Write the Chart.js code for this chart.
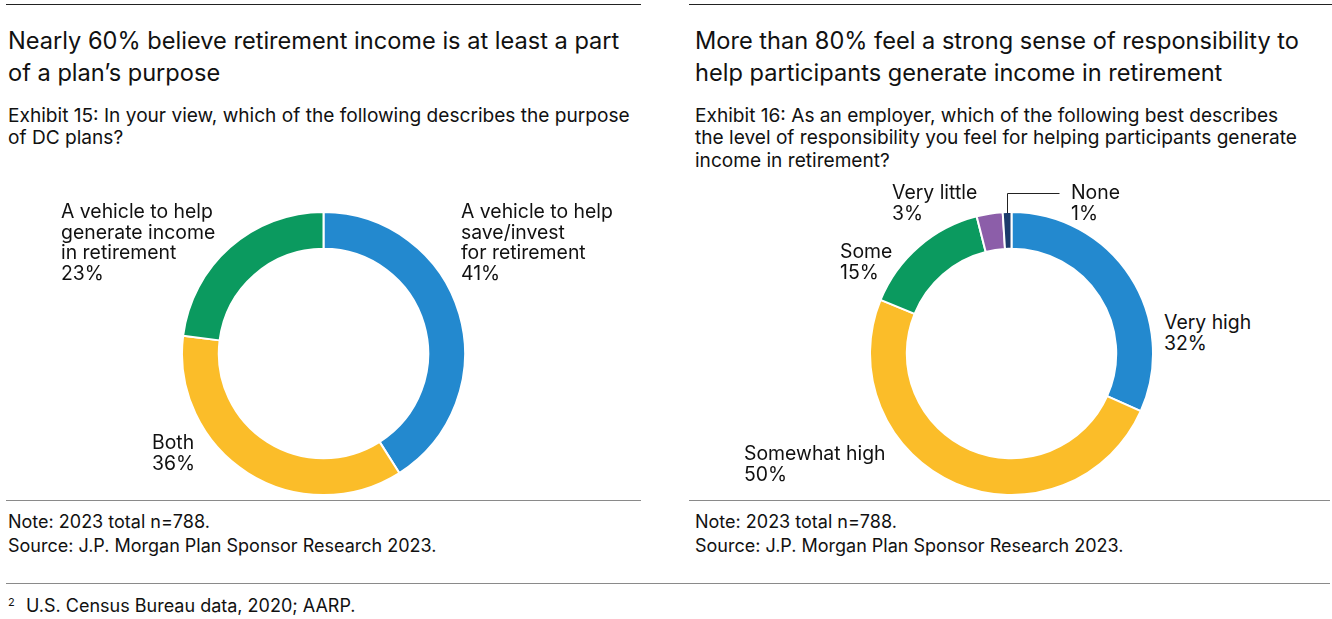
<!DOCTYPE html>
<html>
<head>
<meta charset="utf-8">
<script src="https://cdn.jsdelivr.net/npm/chart.js@4.4.1/dist/chart.umd.min.js"></script>
<style>
  body { margin: 0; background: #fff; }
  #page { position: relative; width: 1332px; height: 619px; overflow: hidden;
          font-family: 'Inter', 'Roboto', sans-serif; color: #111; }
  .abs { position: absolute; white-space: nowrap; }
  .title { font-size: 23.6px; line-height: 32px; }
  .sub { font-size: 19.1px; line-height: 22.4px; }
  .lbl { font-size: 19.4px; line-height: 20.5px; }
  .note { font-size: 18px; line-height: 24px; }
  .rule { position: absolute; height: 1px; }
  .box { position: absolute; width: 285px; }
</style>
</head>
<body>
<div id="page">
  <div class="rule" style="left:6px; top:4px; width:635px; background:#222;"></div>
  <div class="rule" style="left:689px; top:4px; width:643px; background:#222;"></div>

  <div class="abs title" style="left:8px; top:25px;">Nearly 60% believe retirement income is at least a part<br>of a plan’s purpose</div>
  <div class="abs sub" style="left:8px; top:104px;">Exhibit 15: In your view, which of the following describes the purpose<br>of DC plans?</div>

  <div class="abs title" style="left:695px; top:25px;">More than 80% feel a strong sense of responsibility to<br>help participants generate income in retirement</div>
  <div class="abs sub" style="left:695px; top:104px;">Exhibit 16: As an employer, which of the following best describes<br>the level of responsibility you feel for helping participants generate<br>income in retirement?</div>

  <div class="box" style="left:181px; top:211px; height:285px;"><canvas id="graficoProposito"></canvas></div>
  <div class="box" style="left:869px; top:191px; height:305px;"><canvas id="graficoResponsabilidade"></canvas></div>

  <div class="rule" style="left:6px; top:500px; width:635px; background:#8a8a8a;"></div>
  <div class="rule" style="left:689px; top:500px; width:641px; background:#8a8a8a;"></div>

  <div class="abs note" style="left:8px; top:510px;">Note: 2023 total n=788.<br>Source: J.P. Morgan Plan Sponsor Research 2023.</div>
  <div class="abs note" style="left:695px; top:510px;">Note: 2023 total n=788.<br>Source: J.P. Morgan Plan Sponsor Research 2023.</div>

  <div class="rule" style="left:6px; top:583px; width:1324px; background:#8a8a8a;"></div>
  <div class="abs" style="left:8px; top:595px; font-size:11px; line-height:14px;">2</div>
  <div class="abs note" style="left:26px; top:594px;">U.S. Census Bureau data, 2020; AARP.</div>
</div>

<script>
// dados dos gráficos
const propositoLinhas = [
    ['A vehicle to help', 'save/invest', 'for retirement'],
    ['Both'],
    ['A vehicle to help', 'generate income', 'in retirement']
];
const propositoValores = [41, 36, 23];
const propositoCores = ['#2389cf', '#fbbd29', '#0b9a5f'];

const responsabilidadeLinhas = [['Very high'], ['Somewhat high'], ['Some'], ['Very little'], ['None']];
const responsabilidadeValores = [32, 50, 15, 3, 1];
const responsabilidadeCores = ['#2389cf', '#fbbd29', '#0b9a5f', '#8c5ea9', '#1b3b6c'];

// posição dos rótulos (left, top)
const propositoPos = [[461, 201], [152, 432], [61, 201]];
const responsabilidadePos = [[1164, 312], [744, 443], [840, 241], [892, 182], [1071, 182]];

const page = document.getElementById('page');

function rotulos(linhas, valores, pos) {
    linhas.forEach(function (l, i) {
        const div = document.createElement('div');
        div.className = 'abs lbl';
        div.style.left = pos[i][0] + 'px';
        div.style.top = pos[i][1] + 'px';
        div.innerHTML = l.concat([valores[i] + '%']).join('<br>');
        page.appendChild(div);
    });
}
rotulos(propositoLinhas, propositoValores, propositoPos);
rotulos(responsabilidadeLinhas, responsabilidadeValores, responsabilidadePos);

// linha guia do "None"
const linhaGuia = {
    id: 'linhaGuia',
    afterDatasetsDraw(chart) {
        const arcs = chart.getDatasetMeta(0).data;
        const arc = arcs[arcs.length - 1];
        const meio = (arc.startAngle + arc.endAngle) / 2;
        const x = Math.round(arc.x + arc.outerRadius * Math.cos(meio)) + 0.5;
        const y = arc.y + arc.outerRadius * Math.sin(meio);
        const topo = Math.round(y - 19) + 0.5;
        const c = chart.ctx;
        c.save();
        c.strokeStyle = '#222';
        c.lineWidth = 1;
        c.beginPath();
        c.moveTo(x, y + 1);
        c.lineTo(x, topo);
        c.lineTo(x + 52, topo);
        c.stroke();
        c.restore();
    }
};

function opcoes(topo) {
    return {
        responsive: true,
        maintainAspectRatio: false,
        animation: false,
        cutout: '74%',
        layout: { padding: { top: topo } },
        plugins: {
            legend: { display: false },
            tooltip: { enabled: false }
        }
    };
}

const graficoProposito = new Chart(document.getElementById('graficoProposito'), {
    type: 'doughnut',
    data: {
        labels: propositoLinhas.map(l => l.join(' ')),
        datasets: [{
            data: propositoValores,
            backgroundColor: propositoCores,
            borderColor: '#fff',
            borderWidth: 2,
            hoverOffset: 0
        }]
    },
    options: opcoes(0)
});

const graficoResponsabilidade = new Chart(document.getElementById('graficoResponsabilidade'), {
    type: 'doughnut',
    data: {
        labels: responsabilidadeLinhas.map(l => l.join(' ')),
        datasets: [{
            data: responsabilidadeValores,
            backgroundColor: responsabilidadeCores,
            borderColor: '#fff',
            borderWidth: 2,
            hoverOffset: 0
        }]
    },
    options: opcoes(20),
    plugins: [linhaGuia]
});
</script>
</body>
</html>
